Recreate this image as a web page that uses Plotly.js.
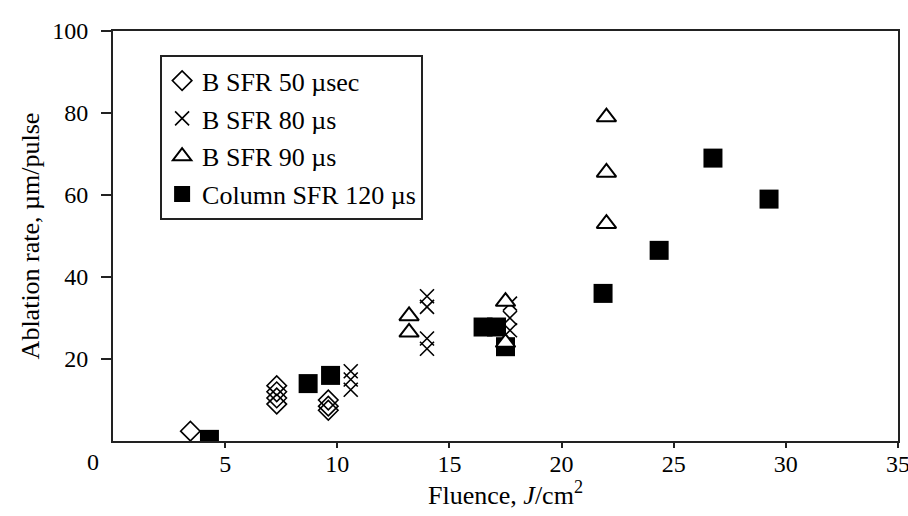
<!DOCTYPE html>
<html>
<head>
<meta charset="utf-8">
<script src="https://cdn.plot.ly/plotly-3.0.1.min.js"></script>
<style>html,body{margin:0;padding:0;background:#fff}#chart{width:908px;height:516px}</style>
</head>
<body>
<div id="chart"></div>
<script>
// Series names
const seriesNames = ["B SFR 50 \u00b5sec", "B SFR 80 \u00b5s", "B SFR 90 \u00b5s", "Column SFR 120 \u00b5s"];

// B SFR 50 µsec (open diamonds)
const sfr50X = [3.45, 7.3, 7.3, 7.3, 7.3, 9.6, 9.6, 9.6];
const sfr50Y = [2.4, 13.5, 12, 10.5, 9, 10, 8.5, 7.5];

// B SFR 80 µs (crosses)
const sfr80X = [10.6, 10.6, 10.6, 14.0, 14.0, 14.0, 14.0, 17.7, 17.7, 17.7];
const sfr80Y = [17, 15, 12.5, 35.3, 32.7, 25, 22.5, 33.5, 30, 27];

// B SFR 90 µs (open triangles)
const sfr90X = [13.2, 13.2, 17.5, 17.5, 22.0, 22.0, 22.0];
const sfr90Y = [30.5, 26.5, 34, 24, 79, 65.5, 53];

// Column SFR 120 µs (filled squares)
const col120X = [4.3, 8.7, 9.7, 16.5, 17.1, 17.5, 21.85, 24.35, 26.75, 29.25];
const col120Y = [0.4, 14, 16, 27.8, 27.8, 23, 36, 46.5, 69, 59];

// Axis ticks
const xTicks = [5, 10, 15, 20, 25, 30, 35];
const yTicks = [20, 40, 60, 80, 100];

const serif = "Liberation Serif, Times New Roman, serif";

const traces = [
  {
    x: sfr50X, y: sfr50Y, name: seriesNames[0], type: "scatter", mode: "markers",
    legendgroup: "a", legendrank: 1,
    marker: {symbol: "diamond-open", size: 15, color: "#000", line: {width: 1.6, color: "#000"}}
  },
  {
    x: sfr80X, y: sfr80Y, name: seriesNames[1], type: "scatter", mode: "markers",
    legendgroup: "b", legendrank: 2,
    marker: {symbol: "x-thin-open", size: 14, color: "#000", line: {width: 1.6, color: "#000"}}
  },
  {
    x: col120X, y: col120Y, name: seriesNames[3], type: "scatter", mode: "markers",
    legendgroup: "d", legendrank: 4,
    marker: {symbol: "square", size: 19, color: "#000", line: {width: 0}}
  },
  {
    x: sfr90X, y: sfr90Y, name: seriesNames[2], type: "scatter", mode: "markers",
    legendgroup: "c", legendrank: 3,
    marker: {symbol: "triangle-up", size: 17, color: "#fff", line: {width: 2, color: "#000"}}
  }
];

const layout = {
  width: 908, height: 516,
  margin: {l: 113, r: 10, t: 31, b: 75},
  paper_bgcolor: "#fff", plot_bgcolor: "#fff",
  font: {family: serif, color: "#000", size: 24},
  showlegend: true,
  legend: {
    x: 0.06, y: 0.941, xanchor: "left", yanchor: "top",
    bgcolor: "#fff", bordercolor: "#222", borderwidth: 2,
    font: {family: serif, size: 26, color: "#000"},
    traceorder: "grouped", tracegroupgap: 1
  },
  xaxis: {
    range: [0, 35], tickvals: xTicks, ticktext: xTicks.map(String),
    showgrid: false, zeroline: false,
    showline: true, mirror: true, linecolor: "#222", linewidth: 2,
    ticks: "outside", ticklen: 5, tickwidth: 2, tickcolor: "#222",
    tickfont: {family: serif, size: 24, color: "#000"},
    ticklabelstandoff: -5, ticklabeloverflow: "allow",
    title: {text: "Fluence, <i>J</i>/cm<sup>2</sup>", font: {family: serif, size: 26, color: "#000"}, standoff: 8},
    automargin: false
  },
  yaxis: {
    range: [0, 100], tickvals: yTicks, ticktext: yTicks.map(String),
    showgrid: false, zeroline: false,
    showline: true, mirror: true, linecolor: "#222", linewidth: 2,
    ticks: "outside", ticklen: 10, tickwidth: 2, tickcolor: "#222",
    tickfont: {family: serif, size: 24, color: "#000"},
    ticklabelstandoff: 8, ticklabeloverflow: "allow",
    title: {text: "Ablation rate, \u00b5m/pulse", font: {family: serif, size: 26, color: "#000"}, standoff: 5},
    automargin: false
  },
  annotations: [
    {text: "0", xref: "paper", yref: "paper", x: -0.025, y: -0.051,
     xanchor: "center", yanchor: "middle", showarrow: false,
     font: {family: serif, size: 24, color: "#000"}}
  ]
};

Plotly.newPlot("chart", traces, layout, {displayModeBar: false, staticPlot: true});
</script>
</body>
</html>
